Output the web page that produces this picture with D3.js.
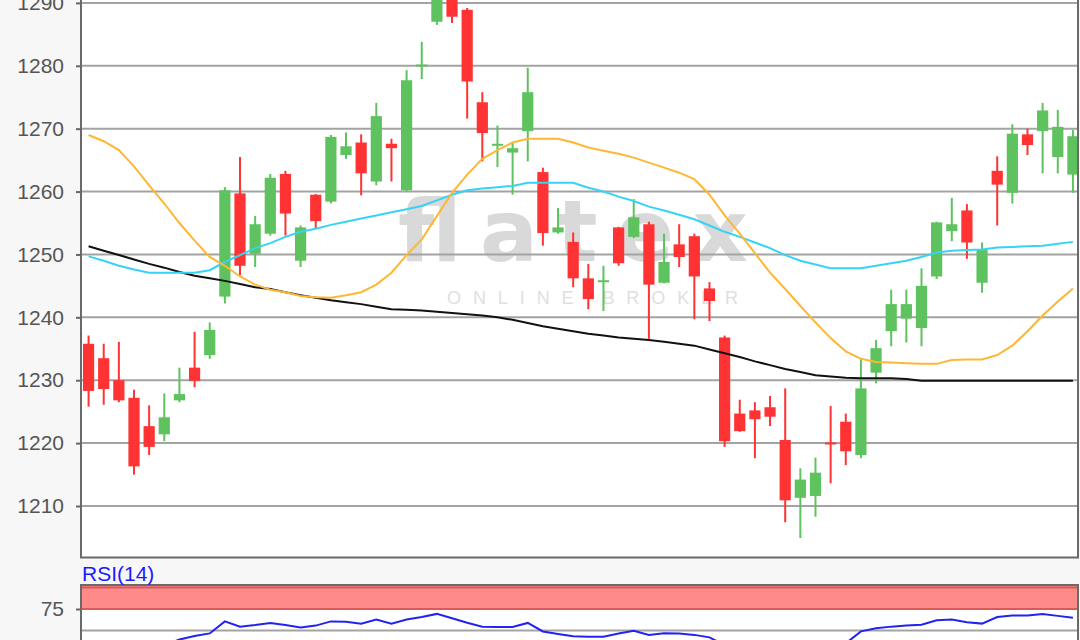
<!DOCTYPE html>
<html><head><meta charset="utf-8">
<script src="https://cdn.jsdelivr.net/npm/d3@7/dist/d3.min.js"></script>
<style>html,body{margin:0;padding:0;background:#f7f7f7;}svg{display:block;}</style>
</head><body>
<script>
// ---- data ----
const openVals  = [1235.8,1233.5,1230.0,1227.2,1222.7,1221.4,1226.8,1232.0,1234.0,1243.3,1259.7,1250.1,1253.3,1262.8,1249.0,1259.5,1258.4,1265.8,1267.8,1261.6,1267.6,1260.2,1280.0,1287.0,1293.0,1288.9,1274.2,1267.3,1266.2,1269.6,1263.1,1253.5,1252.0,1246.2,1245.7,1254.3,1252.8,1254.8,1245.5,1251.6,1252.9,1244.6,1236.8,1224.7,1225.2,1225.7,1220.5,1211.3,1211.6,1220.1,1223.4,1218.1,1231.2,1237.8,1239.8,1238.3,1246.5,1253.7,1257.0,1245.5,1263.3,1259.8,1269.1,1269.6,1265.5,1262.7];
const highVals  = [1237.1,1235.8,1236.1,1228.5,1226.0,1227.9,1232.0,1237.7,1239.2,1260.7,1265.5,1256.1,1262.8,1263.3,1254.6,1259.6,1269.0,1269.4,1269.1,1274.1,1268.4,1279.3,1283.8,1296.0,1295.0,1289.2,1275.8,1270.5,1267.9,1279.7,1263.8,1257.4,1253.5,1248.5,1248.2,1254.4,1258.8,1255.2,1253.3,1254.8,1253.3,1245.6,1237.1,1226.9,1226.5,1227.5,1228.7,1216.0,1217.7,1225.9,1224.7,1233.4,1236.4,1244.4,1244.4,1247.8,1255.2,1259.0,1258.0,1251.9,1265.6,1270.7,1270.0,1274.1,1273.0,1269.8];
const lowVals   = [1225.8,1226.1,1226.5,1215.0,1218.1,1220.3,1226.5,1228.9,1233.4,1242.2,1246.7,1248.0,1253.0,1253.0,1248.0,1254.1,1258.1,1265.2,1259.4,1261.0,1261.6,1260.0,1277.9,1286.5,1286.8,1271.6,1264.8,1263.9,1259.5,1264.8,1251.4,1253.3,1244.8,1241.3,1241.0,1248.2,1252.6,1236.4,1245.4,1248.0,1239.7,1239.4,1219.4,1221.8,1217.6,1222.7,1207.4,1204.9,1208.3,1213.6,1216.5,1217.6,1229.5,1235.4,1236.0,1235.4,1246.1,1252.1,1249.3,1243.9,1254.6,1258.1,1265.8,1262.9,1262.9,1259.8];
const closeVals = [1228.3,1228.6,1226.8,1216.3,1219.4,1224.1,1227.8,1229.9,1238.0,1260.2,1248.2,1254.8,1262.2,1256.5,1254.3,1255.3,1268.7,1267.2,1262.9,1272.0,1266.9,1277.7,1280.2,1293.5,1287.8,1277.5,1269.3,1267.6,1266.9,1275.8,1253.4,1254.3,1246.2,1242.9,1245.9,1248.6,1255.9,1245.2,1248.8,1249.6,1246.5,1242.6,1220.3,1221.9,1223.8,1224.2,1210.9,1214.2,1215.3,1219.8,1218.7,1228.7,1235.1,1242.1,1242.1,1245.0,1255.1,1254.8,1251.9,1250.7,1261.1,1269.2,1267.4,1272.9,1270.3,1268.8];
const maShort   = [1269.0,1268.0,1266.6,1264.0,1261.0,1258.1,1255.0,1252.2,1249.6,1248.2,1246.5,1245.2,1244.4,1244.0,1243.4,1243.2,1243.1,1243.5,1244.0,1245.2,1247.1,1249.9,1252.4,1256.1,1259.8,1262.7,1265.2,1266.6,1267.8,1268.4,1268.4,1268.4,1267.8,1267.0,1266.5,1266.0,1265.4,1264.6,1263.8,1263.0,1262.0,1259.5,1256.2,1253.3,1250.2,1247.1,1244.5,1241.8,1239.2,1236.7,1234.6,1233.4,1232.9,1232.8,1232.7,1232.6,1232.6,1233.2,1233.3,1233.3,1234.0,1235.5,1237.8,1240.3,1242.5,1244.6];
const maMid     = [1249.7,1249.0,1248.2,1247.6,1247.1,1247.1,1247.1,1247.1,1247.5,1248.8,1249.9,1251.0,1251.8,1252.8,1253.6,1254.1,1254.7,1255.2,1255.7,1256.2,1256.7,1257.2,1257.7,1258.6,1259.5,1260.2,1260.5,1260.7,1260.9,1261.4,1261.4,1261.4,1261.4,1260.6,1260.0,1259.2,1258.5,1257.6,1257.0,1256.3,1255.6,1254.6,1253.6,1252.8,1251.9,1251.0,1249.9,1249.0,1248.4,1247.8,1247.8,1247.8,1248.2,1248.6,1249.0,1249.6,1250.3,1250.6,1250.7,1250.8,1251.1,1251.2,1251.3,1251.4,1251.7,1252.0];
const maLong    = [1251.3,1250.6,1249.9,1249.2,1248.5,1247.9,1247.2,1246.6,1246.2,1245.8,1245.3,1244.8,1244.5,1244.0,1243.5,1243.1,1242.7,1242.4,1242.1,1241.7,1241.3,1241.2,1241.1,1240.9,1240.7,1240.5,1240.3,1240.0,1239.6,1239.1,1238.6,1238.2,1237.8,1237.4,1237.1,1236.8,1236.6,1236.4,1236.1,1235.8,1235.5,1234.9,1234.3,1233.7,1233.0,1232.4,1231.8,1231.3,1230.8,1230.6,1230.4,1230.3,1230.3,1230.3,1230.2,1229.9,1229.9,1229.9,1229.9,1229.9,1229.9,1229.9,1229.9,1229.9,1229.9,1229.9];
const rsiVals   = [35,33,31,24,27,33,39.5,43.5,46.6,60.6,54.5,56.3,58.8,56.3,53.4,55.7,60.6,60.2,58,62.8,58,62.8,65.6,69.3,64.2,59,54.5,54.2,54.2,58.8,48.9,46,43.2,42.8,42.8,46.6,49.7,44.7,46.8,46.6,44.9,42,33,30,31,31.5,25,29,31,34,35,49,52.5,54.5,55.7,56.8,61.9,62.8,59.7,58,65.6,67.4,67.4,69.3,67,64.8];
const priceTicks = [1210,1220,1230,1240,1250,1260,1270,1280,1290];
const rsiTicks = [75];
const rsiGrid = [50];
const rsiBand = [75,100];
const rsiLabel = "RSI(14)";
const watermark = "flatex";
const watermarkSub = "ONLINE BROKER";

// ---- layout ----
const W = 1080, H = 640;
const L = 81, R = 1078, T = 0, B = 557.5;
const RT = 585;
const FONT = "'Liberation Sans', Arial, sans-serif";

const n = closeVals.length;
const idx = d3.range(n);
const x = d3.scaleBand().domain(idx).range([L, 1080.5]).paddingInner(0.26).paddingOuter(0.13);
const cx = i => x(i) + x.bandwidth() / 2;
const y = d3.scaleLinear().domain([1210, 1290]).range([506, 2.9]);
const ry = d3.scaleLinear().domain([50, 100]).range([630.5, 587.5]);

const svg = d3.select("body").append("svg").attr("width", W).attr("height", H);
svg.append("rect").attr("width", W).attr("height", H).attr("fill", "#f7f7f7");

const defs = svg.append("defs");
defs.append("clipPath").attr("id", "clipMain").append("rect").attr("x", L).attr("y", T).attr("width", R - L).attr("height", B - T);
defs.append("clipPath").attr("id", "clipRsi").append("rect").attr("x", L).attr("y", RT).attr("width", R - L).attr("height", H - RT);

// main plot background
svg.append("rect").attr("x", L).attr("y", T).attr("width", R - L).attr("height", B - T).attr("fill", "#fff");

// watermark
const wm = svg.append("g").attr("clip-path", "url(#clipMain)");
wm.append("text").attr("x", 398).attr("y", 261).text(watermark)
  .attr("font-family", "'DejaVu Sans', sans-serif").attr("font-size", 86).attr("font-weight", "bold")
  .attr("textLength", 350).attr("lengthAdjust", "spacing").attr("fill", "#d9d9d9");
wm.append("text").attr("x", 447).attr("y", 304).text(watermarkSub)
  .attr("font-family", FONT).attr("font-size", 18)
  .attr("textLength", 291).attr("lengthAdjust", "spacing").attr("fill", "#e0e0e0");

// gridlines
svg.append("g").selectAll("line").data(priceTicks).join("line")
  .attr("x1", L).attr("x2", R).attr("y1", d => y(d)).attr("y2", d => y(d))
  .attr("stroke", "#a3a3a3").attr("stroke-width", 2);

// candles
const cg = svg.append("g").attr("clip-path", "url(#clipMain)");
const col = i => closeVals[i] >= openVals[i] ? "#5ec25e" : "#ff3333";
cg.selectAll("line.wick").data(idx).join("line").attr("class", "wick")
  .attr("x1", cx).attr("x2", cx)
  .attr("y1", i => y(highVals[i])).attr("y2", i => y(lowVals[i]))
  .attr("stroke", col).attr("stroke-width", 2);
cg.selectAll("rect.body").data(idx).join("rect").attr("class", "body")
  .attr("x", i => x(i)).attr("width", x.bandwidth())
  .attr("y", i => y(Math.max(openVals[i], closeVals[i])))
  .attr("height", i => Math.max(2, Math.abs(y(openVals[i]) - y(closeVals[i]))))
  .attr("fill", col);

// moving averages
const line = arr => d3.line().x(i => cx(i)).y(i => y(arr[i]))(idx);
const lg = svg.append("g").attr("clip-path", "url(#clipMain)").attr("fill", "none").attr("stroke-width", 2);
lg.append("path").attr("d", line(maLong)).attr("stroke", "#111");
lg.append("path").attr("d", line(maMid)).attr("stroke", "#36d3f7");
lg.append("path").attr("d", line(maShort)).attr("stroke", "#ffb733");

// main axis
const yAxis = d3.axisLeft(y).tickValues(priceTicks).tickSize(5).tickPadding(12).tickFormat(d3.format("d"));
const ya = svg.append("g").attr("transform", `translate(${L},0)`).call(yAxis);
ya.select(".domain").remove();
ya.selectAll(".tick line").attr("stroke", "#666").attr("stroke-width", 2);
ya.selectAll(".tick text").attr("font-family", FONT).attr("font-size", 21).attr("fill", "#555");

// main frame
svg.append("path").attr("d", `M${L},${T}V${B}H${R}V${T}`).attr("fill", "none").attr("stroke", "#6a6a6a").attr("stroke-width", 2);

// ---- RSI panel ----
svg.append("rect").attr("x", L).attr("y", RT).attr("width", R - L).attr("height", H - RT).attr("fill", "#fff");
const rg = svg.append("g").attr("clip-path", "url(#clipRsi)");
rg.append("rect").attr("x", L).attr("y", RT).attr("width", R - L).attr("height", ry(rsiBand[0]) - RT).attr("fill", "#ff8a8a");
rg.selectAll("line.bl").data(rsiBand).join("line").attr("class", "bl")
  .attr("x1", L).attr("x2", R).attr("y1", d => ry(d)).attr("y2", d => ry(d))
  .attr("stroke", "#d85a5a").attr("stroke-width", 2);
rg.selectAll("line.gl").data(rsiGrid).join("line").attr("class", "gl")
  .attr("x1", L).attr("x2", R).attr("y1", d => ry(d)).attr("y2", d => ry(d))
  .attr("stroke", "#a3a3a3").attr("stroke-width", 2);
rg.append("path").attr("d", d3.line().x(i => cx(i)).y(i => ry(rsiVals[i]))(idx))
  .attr("fill", "none").attr("stroke", "#2323f0").attr("stroke-width", 2);

const rAxis = d3.axisLeft(ry).tickValues(rsiTicks).tickSize(5).tickPadding(12);
const ra = svg.append("g").attr("transform", `translate(${L},0)`).call(rAxis);
ra.select(".domain").remove();
ra.selectAll(".tick line").attr("stroke", "#666").attr("stroke-width", 2);
ra.selectAll(".tick text").attr("font-family", FONT).attr("font-size", 21).attr("fill", "#555");

svg.append("path").attr("d", `M${L},${H + 2}V${RT}H${R}V${H + 2}`).attr("fill", "none").attr("stroke", "#6a6a6a").attr("stroke-width", 2);

svg.append("text").attr("x", 82).attr("y", 581).text(rsiLabel)
  .attr("font-family", FONT).attr("font-size", 21).attr("fill", "#1a1aff");
</script>
</body></html>
